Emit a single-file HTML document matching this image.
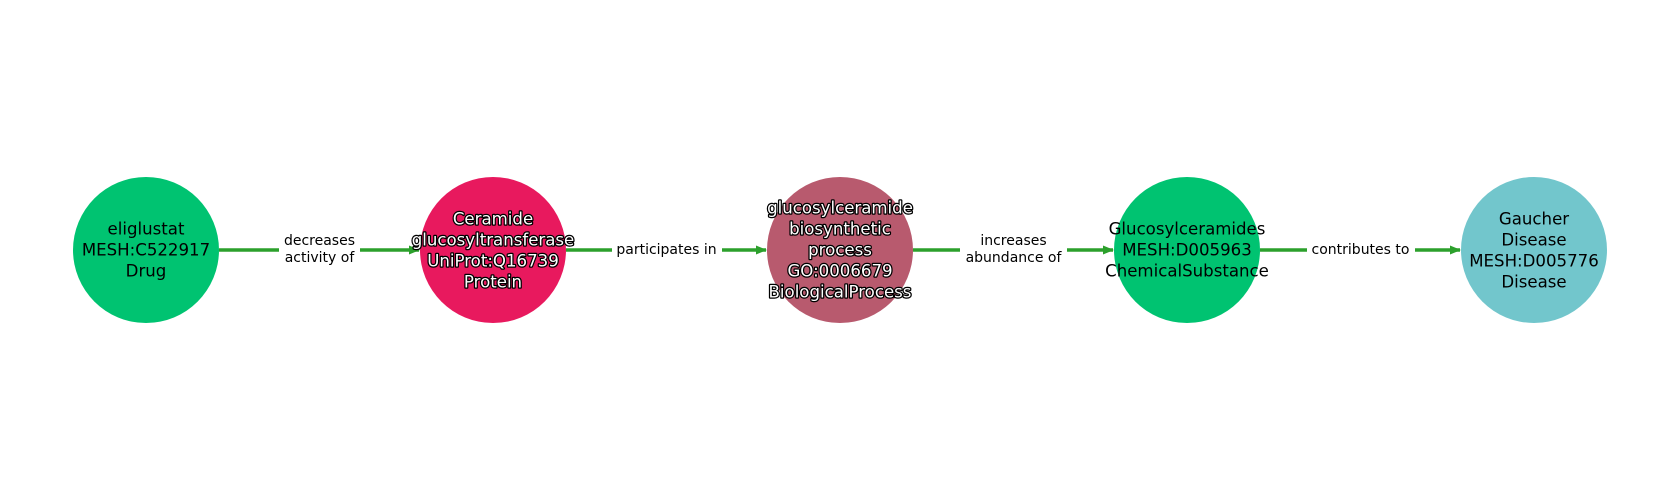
<!DOCTYPE html>
<html><head><meta charset="utf-8"><style>
html,body{margin:0;padding:0;background:#fff;}
svg{display:block;font-family:"DejaVu Sans","Liberation Sans",sans-serif;}
.n{font-size:16.6px;text-anchor:middle;dominant-baseline:central;fill:#000;}
.w{fill:#fff;stroke:#000;stroke-width:2.5px;paint-order:stroke;stroke-linejoin:round;}
.e{font-size:14px;text-anchor:middle;dominant-baseline:central;fill:#000;}
</style></head><body>
<svg width="1680" height="500" viewBox="0 0 1680 500">
<defs><marker id="a" markerWidth="12" markerHeight="12" refX="10" refY="6" orient="auto" markerUnits="userSpaceOnUse"><path d="M0,1.5 L11,6 L0,10.5 Z" fill="#2ca02c"/></marker></defs>
<g stroke="#2ca02c" stroke-width="3.5" fill="none">
<line x1="219" y1="250" x2="419" y2="250" marker-end="url(#a)"/>
<line x1="566" y1="250" x2="766" y2="250" marker-end="url(#a)"/>
<line x1="913" y1="250" x2="1113" y2="250" marker-end="url(#a)"/>
<line x1="1260" y1="250" x2="1460" y2="250" marker-end="url(#a)"/>
</g>
<g fill="#fff">
<rect x="279" y="231" width="81" height="38"/>
<rect x="612" y="240" width="110" height="20"/>
<rect x="960" y="231" width="107" height="38"/>
<rect x="1307" y="240" width="108" height="20"/>
</g>
<text class="e" x="319.5" y="241">decreases</text><text class="e" x="319.5" y="258">activity of</text>
<text class="e" x="666.5" y="250">participates in</text>
<text class="e" x="1013.5" y="241">increases</text><text class="e" x="1013.5" y="258">abundance of</text>
<text class="e" x="1360.5" y="250">contributes to</text>
<circle cx="146" cy="250" r="73" fill="#00c371"/>
<circle cx="493" cy="250" r="73" fill="#e8195e"/>
<circle cx="840" cy="250" r="73" fill="#b85a6e"/>
<circle cx="1187" cy="250" r="73" fill="#00c371"/>
<circle cx="1534" cy="250" r="73" fill="#72c6cc"/>
<text class="n" x="146" y="229">eliglustat</text><text class="n" x="146" y="250">MESH:C522917</text><text class="n" x="146" y="271">Drug</text>
<text class="n w" x="493" y="219">Ceramide</text><text class="n w" x="493" y="240">glucosyltransferase</text><text class="n w" x="493" y="261">UniProt:Q16739</text><text class="n w" x="493" y="282">Protein</text>
<text class="n w" x="840" y="208">glucosylceramide</text><text class="n w" x="840" y="229">biosynthetic</text><text class="n w" x="840" y="250">process</text><text class="n w" x="840" y="271">GO:0006679</text><text class="n w" x="840" y="292">BiologicalProcess</text>
<text class="n" x="1187" y="229">Glucosylceramides</text><text class="n" x="1187" y="250">MESH:D005963</text><text class="n" x="1187" y="271">ChemicalSubstance</text>
<text class="n" x="1534" y="219">Gaucher</text><text class="n" x="1534" y="240">Disease</text><text class="n" x="1534" y="261">MESH:D005776</text><text class="n" x="1534" y="282">Disease</text>
</svg>
</body></html>
